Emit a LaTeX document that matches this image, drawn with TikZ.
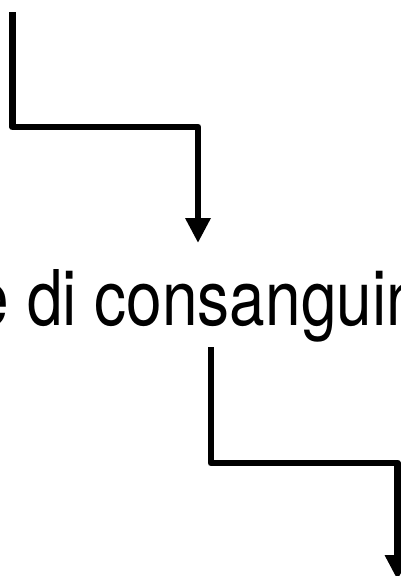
\documentclass[tikz,border=0pt]{standalone}
\usepackage{fontspec}
\setmainfont{TeX Gyre Heros}
\usetikzlibrary{arrows.meta}
\begin{document}
\begin{tikzpicture}[x=1pt,y=-1pt,
  flow/.style={line width=6.8pt, line join=round, -{Triangle[width=24pt,length=25pt]}},
  lbl/.style={inner sep=0pt, anchor=base west, font=\fontsize{64}{78}\selectfont}]
\useasboundingbox (0,0) rectangle (401,576);
\clip (0,0) rectangle (401,576);
\coordinate (s1) at (12.5,12);
\coordinate (a1) at (12.5,127);
\coordinate (b1) at (198,127);
\coordinate (e1) at (198,243);
\node[lbl] (t) at (-26.4,325) {\scalebox{1}[1.2]{e di consanguin}};
\coordinate (s2) at (211,347);
\coordinate (a2) at (211,463);
\coordinate (b2) at (397.5,463);
\coordinate (e2) at (397.5,580);
\draw[flow] (s1) -- (a1) -- (b1) -- (e1);
\draw[flow] (s2) -- (a2) -- (b2) -- (e2);
\end{tikzpicture}
\end{document}
